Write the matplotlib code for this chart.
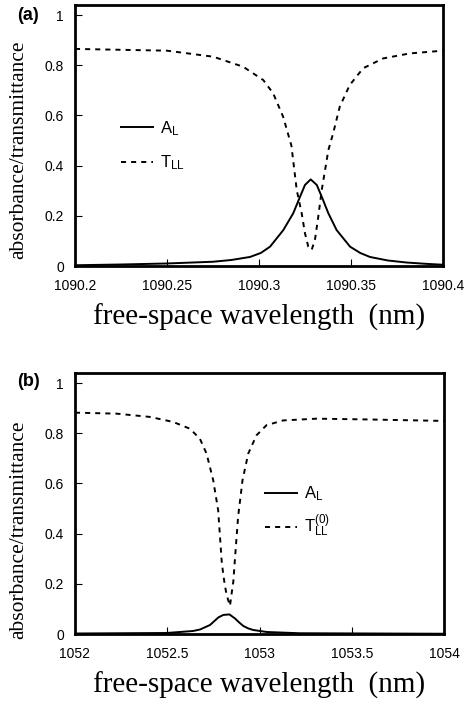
import matplotlib
matplotlib.use('Agg')
import matplotlib.pyplot as plt

plt.rcParams['font.family'] = ['Liberation Sans', 'DejaVu Sans']
plt.rcParams['mathtext.fontset'] = 'custom'
plt.rcParams['mathtext.rm'] = 'Liberation Sans'
plt.rcParams['mathtext.it'] = 'Liberation Sans'

# Panel (a): wavelength (nm) and curves
wl_a_T = [1090.2, 1090.25, 1090.2751, 1090.2914, 1090.3023, 1090.3077, 1090.3131,
          1090.3176, 1090.3205, 1090.3232, 1090.3250, 1090.3268, 1090.3286, 1090.3304,
          1090.3322, 1090.3341, 1090.3359, 1090.3377, 1090.3403, 1090.3439, 1090.3493,
          1090.3566, 1090.3674, 1090.3819, 1090.4]
T_a = [0.865, 0.858, 0.834, 0.794, 0.741, 0.688, 0.595, 0.480, 0.303, 0.210, 0.130, 0.077,
       0.064, 0.104, 0.196, 0.303, 0.382, 0.462, 0.529, 0.635, 0.721, 0.788, 0.827, 0.847,
       0.858]
wl_a_A = [1090.2, 1090.225, 1090.2498, 1090.2751, 1090.2850, 1090.2951, 1090.3010,
          1090.3060, 1090.3132, 1090.3186, 1090.3223, 1090.3250, 1090.3281, 1090.3314,
          1090.3341, 1090.3377, 1090.3422, 1090.3495, 1090.3550, 1090.3603, 1090.3700,
          1090.3800, 1090.3900, 1090.4]
A_a = [0.003, 0.006, 0.010, 0.017, 0.024, 0.036, 0.052, 0.077, 0.143, 0.210, 0.276, 0.323,
       0.345, 0.323, 0.276, 0.210, 0.143, 0.077, 0.052, 0.036, 0.022, 0.014, 0.009, 0.005]

# Panel (b)
wl_b_T = [1052.0, 1052.226, 1052.406, 1052.532, 1052.623, 1052.677, 1052.713, 1052.749,
          1052.776, 1052.795, 1052.804, 1052.813, 1052.822, 1052.840, 1052.849, 1052.858,
          1052.867, 1052.884, 1052.908, 1052.939, 1052.984, 1053.038, 1053.128, 1053.309,
          1053.579, 1054.0]
T_b = [0.882, 0.878, 0.865, 0.845, 0.818, 0.778, 0.719, 0.613, 0.493, 0.290, 0.235, 0.191,
       0.155, 0.112, 0.162, 0.208, 0.300, 0.467, 0.613, 0.719, 0.792, 0.832, 0.851, 0.858,
       0.855, 0.849]
wl_b_A = [1052.0, 1052.496, 1052.587, 1052.640, 1052.678, 1052.732, 1052.777, 1052.804,
          1052.837, 1052.867, 1052.890, 1052.912, 1052.940, 1052.966, 1053.039, 1053.218,
          1054.0]
A_b = [0.002, 0.004, 0.009, 0.012, 0.018, 0.036, 0.066, 0.076, 0.078, 0.062, 0.046, 0.032,
       0.022, 0.016, 0.008, 0.003, 0.001]

xticks_a = [1090.2, 1090.25, 1090.3, 1090.35, 1090.4]
xticklabels_a = ['1090.2', '1090.25', '1090.3', '1090.35', '1090.4']
xticks_b = [1052, 1052.5, 1053, 1053.5, 1054]
xticklabels_b = ['1052', '1052.5', '1053', '1053.5', '1054']
yticks = [0, 0.2, 0.4, 0.6, 0.8, 1]
yticklabels = ['0', '0.2', '0.4', '0.6', '0.8', '1']

fig = plt.figure(figsize=(4.74, 7.05), dpi=100)
ax_a = fig.add_axes([75/474, 1 - 266/705, 368/474, 261/705])
ax_b = fig.add_axes([75/474, 1 - 634/705, 369/474, 261/705])

dot = (0, (2.6, 2.6))
serif = ['Liberation Serif', 'DejaVu Serif']


def style(ax, xlim, xticks, xticklabels, ylab_y):
    ax.set_xlim(*xlim)
    ax.set_ylim(0, 1.04)
    ax.set_xticks(xticks)
    ax.set_xticklabels(xticklabels)
    ax.set_yticks(yticks)
    ax.set_yticklabels(yticklabels)
    ax.tick_params(direction='in', length=5, width=0.8, labelsize=10)
    ax.tick_params(axis='x', pad=9)
    ax.tick_params(axis='y', pad=8)
    for s in ax.spines.values():
        s.set_linewidth(2.0)
    ax.set_xlabel('free-space wavelength  (nm)', family=serif, fontsize=21)
    ax.xaxis.set_label_coords(0.5, -0.145)
    ax.set_ylabel('absorbance/transmittance', family=serif, fontsize=15.5)
    ax.yaxis.set_label_coords(-0.128, ylab_y)


ax_a.plot(wl_a_A, A_a, color='k', lw=1.4, label=r'A$_\mathregular{L}$')
ax_a.plot(wl_a_T, T_a, color='k', lw=1.4, linestyle=dot, label=r'T$_\mathregular{LL}$')
style(ax_a, (1090.2, 1090.4), xticks_a, xticklabels_a, 0.444)
ax_a.legend(loc='upper left', bbox_to_anchor=(0.085, 0.62), frameon=False, fontsize=12,
            handlelength=1.9, handletextpad=0.4, labelspacing=0.95)

ax_b.plot(wl_b_A, A_b, color='k', lw=1.4, label=r'A$_\mathregular{L}$')
ax_b.plot(wl_b_T, T_b, color='k', lw=1.4, linestyle=dot,
          label=r'T$_\mathregular{LL}^\mathregular{(0)}$')
style(ax_b, (1052, 1054), xticks_b, xticklabels_b, 0.40)
ax_b.legend(loc='upper left', bbox_to_anchor=(0.475, 0.63), frameon=False, fontsize=12,
            handlelength=1.9, handletextpad=0.4, labelspacing=0.6)

fig.text(17/474, 1 - 15/705, '(a)', fontsize=13, fontweight='bold', ha='left', va='center')
fig.text(17/474, 1 - 382/705, '(b)', fontsize=13, fontweight='bold', ha='left', va='center')

fig.savefig('out.png', dpi=100)
